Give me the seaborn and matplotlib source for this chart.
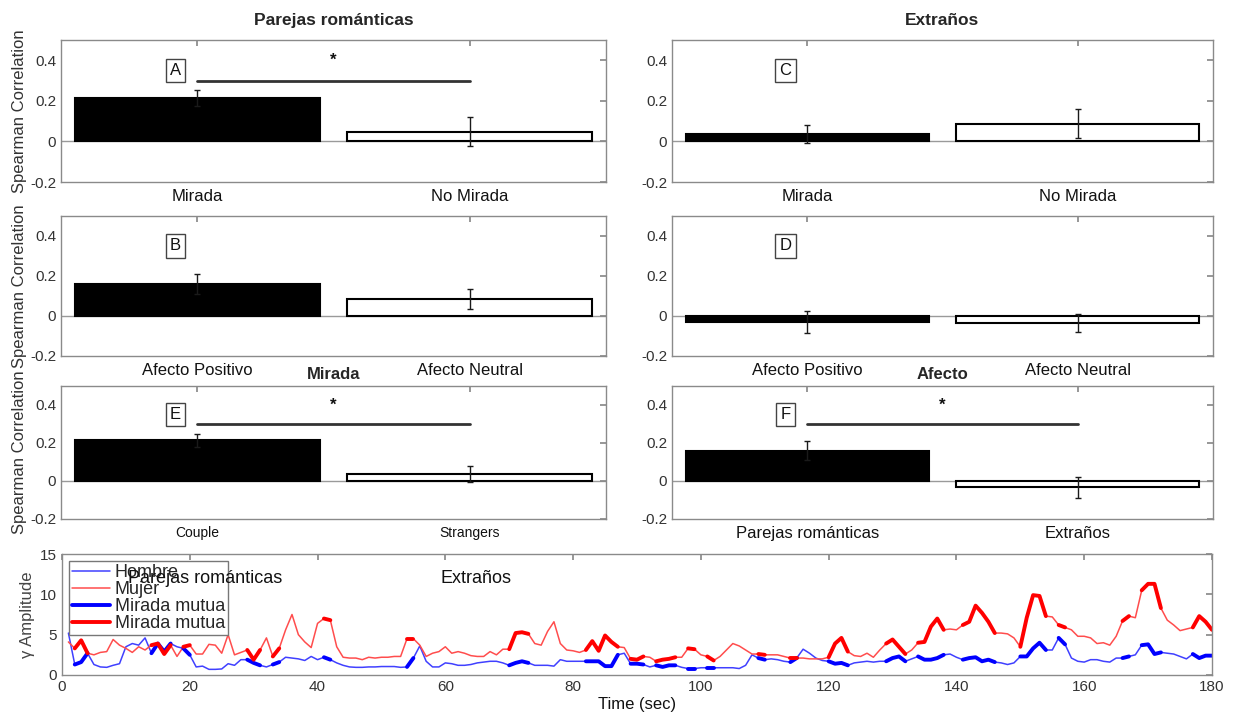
import numpy as np
import pandas as pd
import matplotlib
matplotlib.use("Agg")
import matplotlib.pyplot as plt
import seaborn as sns
from matplotlib.lines import Line2D

# --- Paneles de barras (correlación de Spearman) ---
cats_mirada = ['Mirada', 'No Mirada']
cats_afecto = ['Afecto Positivo', 'Afecto Neutral']
cats_grupo_en = ['Couple', 'Strangers']
cats_grupo_es = ['Parejas románticas', 'Extraños']

vals_A = [0.215, 0.048]
err_A = [0.04, 0.07]
vals_B = [0.16, 0.085]
err_B = [0.05, 0.05]
vals_C = [0.035, 0.088]
err_C = [0.045, 0.072]
vals_D = [-0.03, -0.035]
err_D = [0.055, 0.045]
vals_E = [0.215, 0.038]
err_E = [0.035, 0.043]
vals_F = [0.16, -0.032]
err_F = [0.05, 0.055]

nivel_sig = 0.3     # altura de la barra de significancia
nivel_star = 0.4    # altura del asterisco
nivel_letra = 0.35  # altura de la letra del panel

# --- Serie temporal (amplitud gamma) ---
tiempo = list(range(1, 181))
hombre = [
    5.2, 1.3, 1.6, 2.7, 1.3, 1.0, 0.95, 1.2, 1.4, 3.5,
    3.9, 3.7, 4.6, 2.7, 3.9, 2.9, 3.9, 3.5, 3.3, 2.5,
    1.0, 1.1, 0.7, 0.7, 0.75, 1.4, 1.2, 1.9, 1.9, 1.5,
    1.2, 1.0, 1.3, 1.6, 2.2, 2.1, 2.0, 1.8, 2.3, 1.9,
    2.2, 1.9, 1.5, 1.2, 1.0, 0.95, 0.95, 1.0, 1.0, 1.05,
    1.05, 1.05, 0.95, 1.0, 2.1, 3.6, 1.7, 1.0, 1.0, 1.5,
    1.4, 1.2, 1.2, 1.3, 1.5, 1.6, 1.7, 1.7, 1.5, 1.2,
    1.5, 1.7, 1.5, 1.2, 1.2, 1.2, 1.1, 1.9, 1.7, 1.7,
    1.7, 1.7, 1.7, 1.7, 1.1, 1.1, 2.5, 2.7, 1.4, 1.4,
    1.3, 1.0, 1.2, 1.0, 1.2, 1.2, 0.95, 0.8, 0.8, 0.9,
    0.9, 0.9, 0.9, 0.9, 0.9, 0.8, 1.2, 2.5, 2.1, 1.9,
    2.0, 1.9, 1.7, 1.6, 2.1, 3.2, 2.7, 2.1, 1.8, 1.7,
    1.4, 1.5, 1.2, 1.5, 1.6, 1.7, 1.6, 1.7, 1.7, 2.1,
    2.3, 1.7, 2.0, 2.3, 1.9, 1.9, 2.1, 2.5, 2.6, 2.2,
    1.9, 2.1, 2.2, 1.7, 1.9, 1.6, 1.5, 1.3, 1.5, 2.3,
    2.3, 3.3, 4.0, 3.1, 3.1, 4.6, 3.8, 2.1, 1.7, 1.6,
    1.9, 1.9, 1.7, 1.6, 2.1, 2.1, 2.3, 2.5, 3.7, 3.8,
    2.6, 2.8, 2.7, 2.6, 2.3, 2.0, 2.6, 2.1, 2.4, 2.4,
]
mujer = [
    4.1, 3.3, 4.3, 2.7, 2.5, 2.8, 2.9, 4.4, 3.7, 3.3,
    2.8, 3.5, 3.1, 3.7, 3.9, 2.6, 3.7, 2.3, 3.5, 3.7,
    2.6, 2.6, 3.8, 3.7, 2.7, 5.0, 2.5, 2.8, 3.1, 1.9,
    3.1, 4.6, 2.3, 3.3, 5.6, 7.5, 5.0, 4.1, 3.4, 6.4,
    7.0, 6.8, 3.5, 2.2, 2.1, 2.1, 1.9, 2.2, 2.1, 2.2,
    2.2, 2.3, 2.3, 4.5, 4.5, 3.7, 2.3, 2.7, 2.9, 3.5,
    2.7, 2.9, 2.7, 2.4, 2.3, 2.3, 2.9, 2.5, 3.2, 3.2,
    5.2, 5.3, 5.1, 3.9, 3.7, 5.4, 6.6, 3.9, 3.1, 3.0,
    2.8, 3.1, 4.2, 3.0, 4.9, 4.1, 3.5, 3.4, 2.0, 1.9,
    2.3, 2.2, 1.7, 1.9, 2.0, 2.2, 2.2, 3.3, 3.2, 2.5,
    2.3, 1.8, 2.3, 3.1, 3.9, 3.6, 3.1, 2.6, 2.6, 2.5,
    2.5, 2.5, 2.3, 2.1, 2.1, 2.1, 2.0, 2.0, 2.0, 2.2,
    3.9, 4.6, 2.9, 2.4, 2.3, 2.7, 2.2, 3.1, 3.9, 4.4,
    3.5, 2.6, 3.1, 4.0, 4.1, 6.0, 7.0, 5.6, 5.7, 5.6,
    6.2, 6.6, 8.6, 7.7, 6.6, 5.2, 5.2, 5.1, 4.6, 3.5,
    7.1, 9.9, 9.8, 7.3, 7.2, 6.2, 5.9, 5.6, 4.8, 4.8,
    4.6, 3.9, 4.0, 3.7, 4.8, 6.7, 7.3, 7.1, 10.5, 11.3,
    11.3, 8.3, 6.8, 6.2, 5.5, 5.7, 5.9, 7.3, 6.6, 5.6,
]
# intervalos de mirada mutua (segundos, inclusivos)
mirada_mutua = [
    (2, 4), (14, 17), (19, 20), (29, 31), (33, 34), (41, 42), (54, 55),
    (70, 73), (82, 87), (89, 91), (93, 96), (98, 99), (101, 102),
    (109, 110), (114, 115), (120, 123), (129, 132), (134, 138),
    (141, 146), (150, 154), (156, 157), (166, 167), (169, 172), (177, 180),
]

sns.set_theme(style='white')
plt.rcParams['font.family'] = ['Liberation Sans', 'DejaVu Sans']

GRIS_EJE = '#8a8a8a'
GRIS_TXT = '#333333'


def estilo_ejes(ax):
    for s in ax.spines.values():
        s.set_color(GRIS_EJE)
        s.set_linewidth(1)
    ax.tick_params(direction='in', top=True, right=True, length=4,
                   color=GRIS_EJE, labelcolor=GRIS_TXT, labelsize=11)


def panel_barras(ax, cats, vals, errs, letra, sig=False, ylabel=True, cat_fs=12):
    sns.barplot(x=cats, y=vals, hue=cats, palette=['black', 'white'],
                edgecolor='black', linewidth=1.5, width=0.9, legend=False, ax=ax)
    ax.errorbar(range(len(cats)), vals, yerr=errs, fmt='none',
                ecolor='#1a1a1a', elinewidth=1, capsize=2.5, zorder=5)
    ax.axhline(0, color='#9a9a9a', lw=1, zorder=0)
    ax.set_xlim(-0.5, 1.5)
    ax.set_ylim(-0.2, 0.5)
    ax.set_yticks([-0.2, 0, 0.2, 0.4])
    ax.set_yticklabels(['-0.2', '0', '0.2', '0.4'])
    estilo_ejes(ax)
    ax.tick_params(axis='x', labelsize=cat_fs, labelcolor='#111111', pad=5)
    ax.set_xlabel('')
    if ylabel:
        ax.set_ylabel('Spearman Correlation', fontsize=12, color=GRIS_TXT, labelpad=2)
    else:
        ax.set_ylabel('')
    ax.text(-0.08, nivel_letra, letra, ha='center', va='center', fontsize=12,
            color='#111111',
            bbox=dict(boxstyle='square,pad=0.25', fc='white', ec='#444444', lw=1))
    if sig:
        ax.plot([0, 1], [nivel_sig, nivel_sig], color='#333333', lw=2)
        ax.text(0.5, nivel_star, '*', ha='center', va='center',
                fontsize=12, fontweight='bold', color='#111111')


fig = plt.figure(figsize=(12.36, 7.19), dpi=100)
W, H = 1236, 719


def caja(l, r, t, b):
    return [l / W, 1 - b / H, (r - l) / W, (b - t) / H]


axA = fig.add_axes(caja(61, 606, 40, 182))
axC = fig.add_axes(caja(672, 1213, 40, 182))
axB = fig.add_axes(caja(61, 606, 216, 356))
axD = fig.add_axes(caja(672, 1213, 216, 356))
axE = fig.add_axes(caja(61, 606, 386, 519))
axF = fig.add_axes(caja(672, 1213, 386, 519))
axT = fig.add_axes(caja(62, 1212, 554, 675))

panel_barras(axA, cats_mirada, vals_A, err_A, 'A', sig=True)
panel_barras(axC, cats_mirada, vals_C, err_C, 'C', ylabel=False)
panel_barras(axB, cats_afecto, vals_B, err_B, 'B')
panel_barras(axD, cats_afecto, vals_D, err_D, 'D', ylabel=False)
panel_barras(axE, cats_grupo_en, vals_E, err_E, 'E', sig=True, cat_fs=10)
panel_barras(axF, cats_grupo_es, vals_F, err_F, 'F', sig=True, ylabel=False)

axA.set_title('Parejas románticas', fontsize=12.5, fontweight='bold', pad=11)
axC.set_title('Extraños', fontsize=12.5, fontweight='bold', pad=11)
axE.set_title('Mirada', fontsize=12, fontweight='bold', pad=5)
axF.set_title('Afecto', fontsize=12, fontweight='bold', pad=5)

# --- serie temporal ---
df = pd.DataFrame({'t': tiempo, 'Hombre': hombre, 'Mujer': mujer})
seg = np.full(len(df), -1)
for k, (a, b) in enumerate(mirada_mutua):
    seg[(df['t'] >= a) & (df['t'] <= b)] = k
dg = df[seg >= 0].assign(seg=seg[seg >= 0])

azul_fino = (0.25, 0.25, 1.0)
rojo_fino = (1.0, 0.3, 0.3)
sns.lineplot(data=df, x='t', y='Hombre', color=azul_fino, lw=1.1, ax=axT)
sns.lineplot(data=df, x='t', y='Mujer', color=rojo_fino, lw=1.1, ax=axT)
sns.lineplot(data=dg, x='t', y='Hombre', units='seg', estimator=None,
             color='blue', lw=2.8, ax=axT)
sns.lineplot(data=dg, x='t', y='Mujer', units='seg', estimator=None,
             color='red', lw=2.8, ax=axT)

axT.set_xlim(0, 180)
axT.set_ylim(0, 15)
axT.set_xticks(range(0, 181, 20))
axT.set_yticks([0, 5, 10, 15])
estilo_ejes(axT)
axT.set_xlabel('Time (sec)', fontsize=12, color='#111111', labelpad=2)
axT.set_ylabel('γ Amplitude', fontsize=12, color='#444444', labelpad=4)

handles = [
    Line2D([], [], color=azul_fino, lw=1.1),
    Line2D([], [], color=rojo_fino, lw=1.1),
    Line2D([], [], color='blue', lw=2.8),
    Line2D([], [], color='red', lw=2.8),
]
leg = axT.legend(handles, ['Hombre', 'Mujer', 'Mirada mutua', 'Mirada mutua'],
                 loc='upper left', bbox_to_anchor=(0.006, 0.94), fontsize=13,
                 frameon=True, fancybox=False, framealpha=1, edgecolor='#777777',
                 borderpad=0.15, labelspacing=0.0, handlelength=2.1,
                 handletextpad=0.3, borderaxespad=0)
leg.get_frame().set_linewidth(1)
leg.set_zorder(5)

axT.text(10.3, 12.0, 'Parejas románticas', ha='left', va='center',
         fontsize=13, color='#111111', zorder=10)
axT.text(59.2, 12.0, 'Extraños', ha='left', va='center',
         fontsize=13, color='#111111', zorder=10)

fig.savefig('out.png', dpi=100)
